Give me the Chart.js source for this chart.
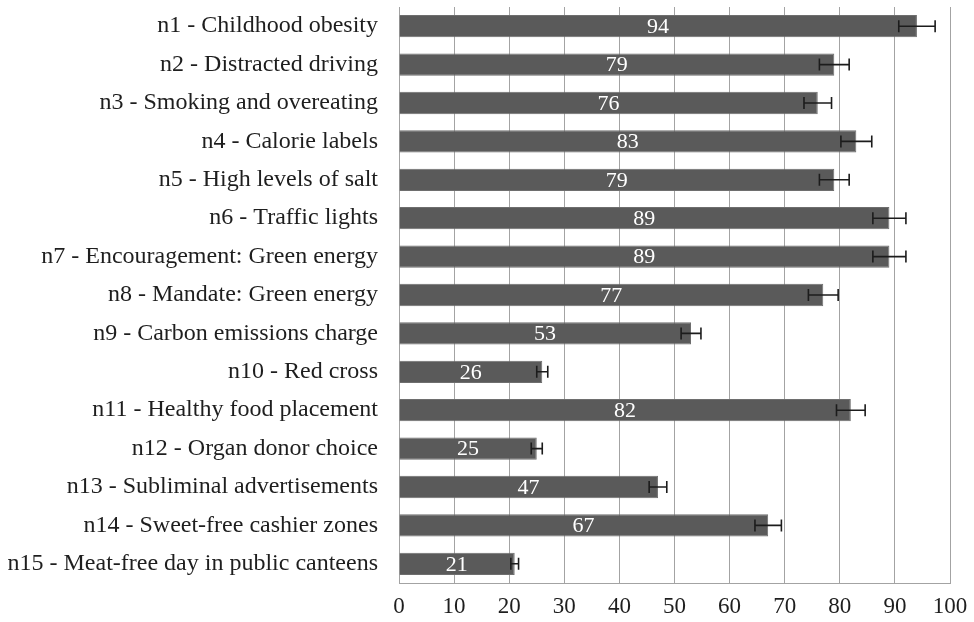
<!DOCTYPE html>
<html>
<head>
<meta charset="utf-8">
<script src="https://cdn.jsdelivr.net/npm/chart.js@4/dist/chart.umd.min.js"></script>
<style>
  html, body { margin: 0; padding: 0; background: #ffffff; }
  canvas { display: block; }
</style>
</head>
<body>
<canvas id="chart" width="974" height="622"></canvas>
<script>
// Nudge categories, top to bottom
const categories = [
  'n1 - Childhood obesity',
  'n2 - Distracted driving',
  'n3 - Smoking and overeating',
  'n4 - Calorie labels',
  'n5 - High levels of salt',
  'n6 - Traffic lights',
  'n7 - Encouragement: Green energy',
  'n8 - Mandate: Green energy',
  'n9 - Carbon emissions charge',
  'n10 - Red cross',
  'n11 - Healthy food placement',
  'n12 - Organ donor choice',
  'n13 - Subliminal advertisements',
  'n14 - Sweet-free cashier zones',
  'n15 - Meat-free day in public canteens'
];

// Percentage of approval per nudge
const approval = [94, 79, 76, 83, 79, 89, 89, 77, 53, 26, 82, 25, 47, 67, 21];

// Half-width of the error interval (percentage points)
const errorMargin = [3.3, 2.7, 2.5, 2.8, 2.7, 3.0, 3.0, 2.7, 1.8, 1.0, 2.6, 1.0, 1.6, 2.4, 0.7];

// Axis ticks
const xTicks = [0, 10, 20, 30, 40, 50, 60, 70, 80, 90, 100];

const SERIF = '"Liberation Serif", "Times New Roman", serif';

// Draws error bars and the value label inside each bar
const barOverlay = {
  id: 'barOverlay',
  afterDatasetsDraw(chart) {
    const { ctx, scales: { x } } = chart;
    const meta = chart.getDatasetMeta(0);
    ctx.save();
    meta.data.forEach((bar, i) => {
      const yc = bar.y;
      const lo = x.getPixelForValue(approval[i] - errorMargin[i]);
      const hi = x.getPixelForValue(approval[i] + errorMargin[i]);
      const cap = 6;
      ctx.strokeStyle = '#1c1c1c';
      ctx.lineWidth = 1.6;
      ctx.beginPath();
      ctx.moveTo(lo, yc); ctx.lineTo(hi, yc);
      ctx.moveTo(lo, yc - cap); ctx.lineTo(lo, yc + cap);
      ctx.moveTo(hi, yc - cap); ctx.lineTo(hi, yc + cap);
      ctx.stroke();

      ctx.fillStyle = '#ffffff';
      ctx.font = '22px ' + SERIF;
      ctx.textAlign = 'center';
      ctx.textBaseline = 'middle';
      ctx.fillText(String(approval[i]), x.getPixelForValue(approval[i] / 2), yc + 1);
    });
    ctx.restore();
  }
};

new Chart(document.getElementById('chart'), {
  type: 'bar',
  data: {
    labels: categories,
    datasets: [{
      data: approval,
      backgroundColor: '#5a5a5a',
      borderColor: '#6e6e6e',
      borderWidth: 1,
      barPercentage: 0.58,
      categoryPercentage: 1.0
    }]
  },
  options: {
    indexAxis: 'y',
    responsive: false,
    animation: false,
    layout: { padding: { top: 7, right: 24, left: 0, bottom: 0 } },
    plugins: {
      legend: { display: false },
      tooltip: { enabled: false }
    },
    scales: {
      x: {
        min: 0,
        max: 100,
        afterBuildTicks(scale) {
          scale.ticks = xTicks.map(v => ({ value: v }));
        },
        afterFit(scale) {
          scale.height = 39;
          scale.paddingLeft = 0;
          scale.paddingRight = 0;
        },
        grid: {
          color: '#a3a3a3',
          lineWidth: 1,
          drawTicks: false
        },
        border: { display: true, color: '#a3a3a3', width: 1 },
        ticks: {
          padding: 10,
          color: '#1e1e1e',
          font: { family: SERIF, size: 23 }
        }
      },
      y: {
        afterFit(scale) {
          scale.width = 399;
          scale.paddingTop = 0;
          scale.paddingBottom = 0;
        },
        grid: { display: false, drawTicks: false },
        border: { display: true, color: '#a3a3a3', width: 1 },
        ticks: {
          padding: 21,
          color: '#1e1e1e',
          font: { family: SERIF, size: 24 }
        }
      }
    }
  },
  plugins: [barOverlay]
});
</script>
</body>
</html>
